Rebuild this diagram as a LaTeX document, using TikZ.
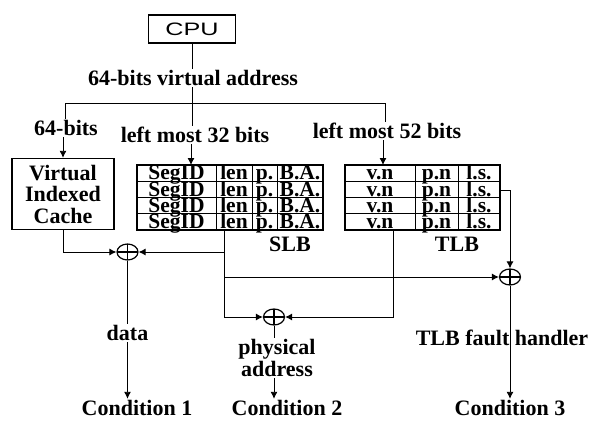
\documentclass[tikz,border=0pt]{standalone}
\usepackage{fontspec}
\setmainfont{Liberation Serif}
\setsansfont{Liberation Sans}
\usetikzlibrary{arrows.meta,shapes.geometric,calc}

\begin{document}
\begin{tikzpicture}[x=1pt,y=-1pt,line width=0.9pt,
  lbl/.style={font=\fontsize{22}{21.5}\selectfont\bfseries, inner sep=1pt},
  cell/.style={font=\fontsize{21.5}{21.5}\selectfont\bfseries, inner sep=0pt, anchor=base},
  box/.style={draw, line width=1.4pt},
  xor/.style={draw, ellipse, line width=1.2pt, minimum width=21pt, minimum height=16pt, inner sep=0pt,
    path picture={\draw[line width=1.2pt] (path picture bounding box.north) -- (path picture bounding box.south)
      (path picture bounding box.west) -- (path picture bounding box.east);}},
  arr/.style={-{Latex[length=7pt,width=7pt]}}]
\useasboundingbox (0,0) rectangle (595,421);

% CPU and address split
\node[box, minimum width=87pt, minimum height=28pt] (cpu) at (192,29) {\fontsize{18}{18}\selectfont\sffamily\scalebox{1.4}[1]{CPU}};
\node[lbl] (va) at (193,78) {64-bits virtual address};
\coordinate (split) at (192,103);
\coordinate (bl) at (65,103);
\coordinate (br) at (385,103);
\draw (cpu.south) -- (cpu.south |- va.north);
\draw (va.south -| split) -- (split);
\draw (bl) -- (br);

% Address parts
\node[lbl] (b64) at (66,128) {64-bits};
\node[lbl] (b32) at (195,135) {left most 32 bits};
\node[lbl] (b52) at (387,131) {left most 52 bits};
\draw (bl) -- (bl |- b64.north);
\draw (split) -- (split |- b32.north);
\draw (br) -- (br |- b52.north);

% Virtual indexed cache
\node[box, lbl, align=center, minimum width=102pt, minimum height=71pt] (cache) at (63,194) {Virtual\\Indexed\\Cache};
\draw[arr] (b64.south -| cache.north) -- (cache.north);

% SLB and TLB tables
\draw[box] (137,165) rectangle (323,230);
\draw[box] (345,165) rectangle (500,230);
\foreach \y in {181.25,197.5,213.75} {
  \draw (137,\y) -- (323,\y);
  \draw (345,\y) -- (500,\y);
}
\foreach \x in {216,252,277,415,458} \draw (\x,165) -- (\x,230);
\foreach \r in {1,...,4} {
  \pgfmathsetmacro{\yb}{165+16.25*\r-1.5}
  \node[cell] (seg\r) at (176.5,\yb) {SegID};
  \node[cell] (len\r) at (234,\yb) {len};
  \node[cell] (pb\r) at (264.5,\yb) {p.};
  \node[cell] (ba\r) at (300,\yb) {B.A.};
  \node[cell] (vn\r) at (380,\yb) {v.n};
  \node[cell] (pn\r) at (436.5,\yb) {p.n};
  \node[cell] (ls\r) at (479,\yb) {l.s.};
}
\node[lbl] (slb) at (290,244) {SLB};
\node[lbl] (tlb) at (457,244) {TLB};
\coordinate (slbin) at (191,165);
\coordinate (tlbin) at (383,165);
\draw[arr] (b32.south -| slbin) -- (slbin);
\draw[arr] (b52.south -| tlbin) -- (tlbin);

% Comparators
\node[xor] (x1) at (127.5,252) {};
\node[xor] (x2) at (274,317) {};
\node[xor] (x3) at (510,277) {};
\coordinate (slbout) at (224,230);
\coordinate (tlbout) at (393,230);
\coordinate (tlbls) at (500,190);
\draw[arr] (cache.south) |- (x1);
\draw[arr] (slbout |- x1) -- (x1);
\draw[arr] (slbout |- x3) -- (x3);
\draw[arr] (slbout) |- (x2);
\draw[arr] (tlbout) |- (x2);
\draw[arr] (tlbls) -| (x3);

% Outputs
\node[lbl] (data) at (127.5,333) {data};
\node[lbl, align=center] (pa) at (277,358) {physical\\address};
\node[lbl] (tf) at (502,338) {TLB fault handler};
\node[lbl] (c1) at (137,408) {Condition 1};
\node[lbl] (c2) at (287,408) {Condition 2};
\node[lbl] (c3) at (510,408) {Condition 3};
\draw (x1) -- (data);
\draw[arr] (data) -- (data |- c1.north);
\draw (x2) -- (x2 |- pa.north);
\draw[arr] (pa.south -| x2) -- (x2 |- c2.north);
\draw[arr] (x3) -- (x3 |- c3.north);
\end{tikzpicture}
\end{document}
